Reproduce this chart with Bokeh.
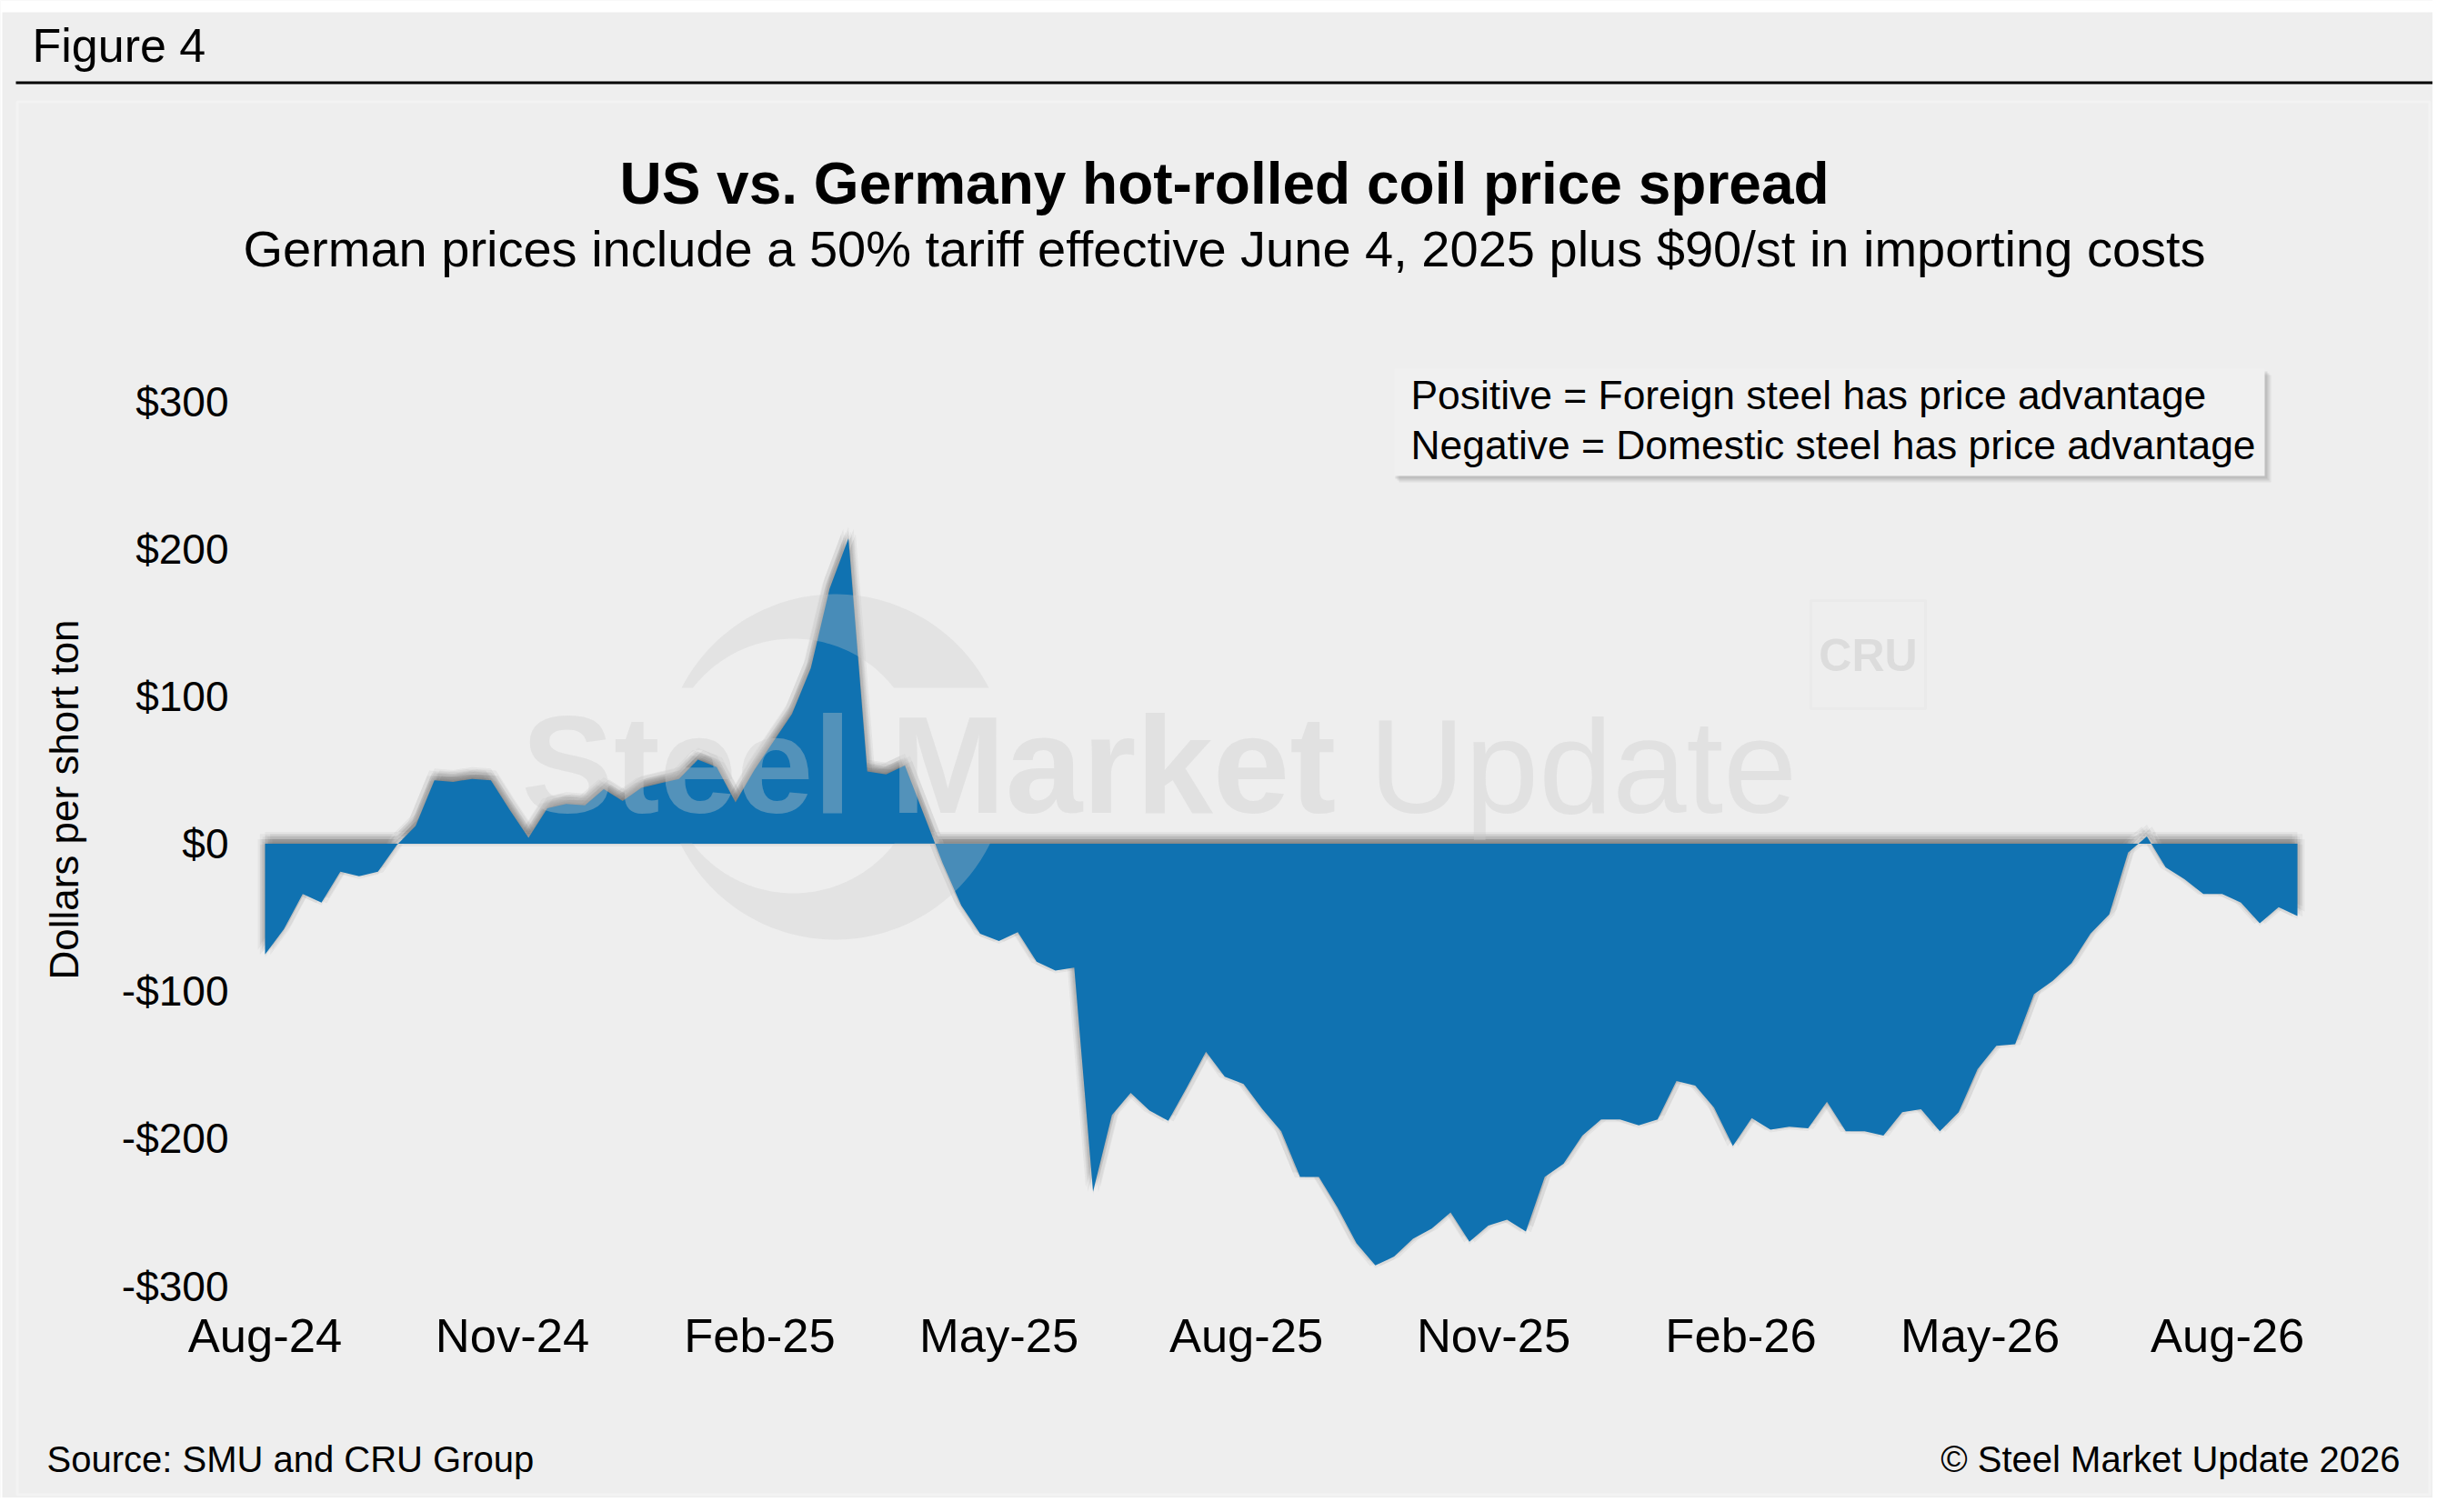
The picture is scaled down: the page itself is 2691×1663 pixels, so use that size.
import datetime as dt
import math
import numpy as np
from bokeh.plotting import figure
from bokeh.models import Range1d, FixedTicker, DatetimeTickFormatter, Label, BoxAnnotation, PolyAnnotation
from bokeh.embed import file_html
from bokeh.resources import INLINE

# ---------------- data ----------------
start_date = dt.datetime(2024, 8, 1)
spread = [
    -75, -58, -34, -40, -19, -22, -19, -1, 12, 43,
    42, 44, 43, 23, 4, 24, 27, 26, 37, 29,
    38, 41, 44, 57, 52, 28, 50, 69, 88, 119,
    173, 207, 49, 47, 53, 20, -13, -42, -61, -66,
    -60, -80, -86, -84, -236, -184, -169, -181, -188, -165,
    -141, -158, -163, -180, -195, -226, -226, -247, -271, -286,
    -280, -268, -261, -250, -270, -259, -255, -263, -226, -217,
    -198, -187, -187, -191, -187, -161, -164, -179, -205, -186,
    -194, -192, -193, -175, -195, -195, -198, -182, -180, -195,
    -182, -153, -137, -136, -102, -93, -81, -61, -48, -6,
    5, -16, -24, -34, -34, -40, -54, -43, -49,
]
dates = [start_date + dt.timedelta(weeks=i) for i in range(len(spread))]

x_tick_dates = [dt.datetime(2024, 8, 1), dt.datetime(2024, 11, 1), dt.datetime(2025, 2, 1),
                dt.datetime(2025, 5, 1), dt.datetime(2025, 8, 1), dt.datetime(2025, 11, 1),
                dt.datetime(2026, 2, 1), dt.datetime(2026, 5, 1), dt.datetime(2026, 8, 1)]
x_tick_labels = ["Aug-24", "Nov-24", "Feb-25", "May-25", "Aug-25", "Nov-25", "Feb-26", "May-26", "Aug-26"]
y_ticks = [-300, -200, -100, 0, 100, 200, 300]
y_tick_labels = ["-$300", "-$200", "-$100", "$0", "$100", "$200", "$300"]

title_text = "US vs. Germany hot-rolled coil price spread"
subtitle_text = "German prices include a 50% tariff effective June 4, 2025 plus $90/st in importing costs"
legend_lines = ["Positive = Foreign steel has price advantage",
                "Negative = Domestic steel has price advantage"]
y_axis_title = "Dollars per short ton"

# ---------------- layout ----------------
W, H = 2675, 1647
L, R, T, B = 291, 2526, 441, 1414      # data area inside the canvas
BG = "#EEEEEE"
BLUE = "#1072B1"
FONT = "Liberation Sans"


def ms(d):
    return (d - dt.datetime(1970, 1, 1)).total_seconds() * 1000.0


x0, x1 = ms(dates[0]), ms(dates[-1])
ms_per_px = (x1 - x0) / (R - L)
usd_per_px = 600.0 / (B - T)
x_range = Range1d(x0 - L * ms_per_px, x1 + (W - R) * ms_per_px)
y_range = Range1d(-300 - (H - B) * usd_per_px, 300 + T * usd_per_px)

p = figure(width=W, height=H, x_axis_type="datetime", x_range=x_range, y_range=y_range,
           output_backend="svg", toolbar_location=None, title=None,
           min_border=0, min_border_left=0, min_border_right=0, min_border_top=0, min_border_bottom=0,
           background_fill_color=BG, border_fill_color=BG, outline_line_color=None)
p.xgrid.visible = False
p.ygrid.visible = False

# axes (kept at the data-area edges)
for ax in (p.xaxis[0], p.yaxis[0]):
    ax.axis_line_color = None
    ax.major_tick_line_color = None
    ax.minor_tick_line_color = None
    ax.major_tick_out = 0
    ax.major_tick_in = 0
    ax.minor_tick_out = 0
    ax.minor_tick_in = 0
    ax.major_label_text_font = FONT
    ax.major_label_text_color = "#000000"

x_ticks_ms = [ms(d) for d in x_tick_dates]
p.xaxis.fixed_location = -300
p.xaxis.bounds = (x0, x1)
p.xaxis.ticker = FixedTicker(ticks=x_ticks_ms)
p.xaxis.formatter = DatetimeTickFormatter(months="%b-%y", days="%b-%y", years="%b-%y")
p.xaxis.major_label_overrides = {t: lab for t, lab in zip(x_ticks_ms, x_tick_labels)}
p.xaxis.major_label_text_font_size = "52.5px"
p.xaxis.major_label_standoff = 24

p.yaxis.fixed_location = x0
p.yaxis.bounds = (-300, 360)
p.yaxis.ticker = FixedTicker(ticks=y_ticks)
p.yaxis.major_label_overrides = {t: lab for t, lab in zip(y_ticks, y_tick_labels)}
p.yaxis.major_label_text_font_size = "46px"
p.yaxis.major_label_standoff = 40
p.yaxis.axis_label = y_axis_title
p.yaxis.axis_label_text_font = FONT
p.yaxis.axis_label_text_font_size = "44px"
p.yaxis.axis_label_text_font_style = "normal"
p.yaxis.axis_label_text_color = "#000000"
p.yaxis.axis_label_standoff = 36

x_ms = np.array([ms(d) for d in dates])
vals = np.array(spread, dtype=float)

# soft shadow behind the area
offsets = [(0.0, 5.0)]
for r in (4.0, 8.0):
    for k in range(8):
        th = k * math.pi / 4
        offsets.append((r * math.cos(th), 5.0 + r * math.sin(th)))
for dx, dy in offsets:
    p.varea(x=x_ms + dx * ms_per_px, y1=np.zeros_like(vals) + dy * usd_per_px,
            y2=vals + dy * usd_per_px, fill_color="#444444", fill_alpha=0.06)

# main area
p.varea(x=x_ms, y1=np.zeros_like(vals), y2=vals, fill_color=BLUE, fill_alpha=1.0)

# ---------------- decorations (canvas units) ----------------
def box(left, right, top, bottom, **kw):
    b = BoxAnnotation(left=left, right=right, top=top, bottom=bottom,
                      left_units="canvas", right_units="canvas",
                      top_units="canvas", bottom_units="canvas", **kw)
    p.add_layout(b)
    return b


BASE_K = 0.39  # baseline correction for alphabetic labels


def label(x, y, text, size, baseline=True, **kw):
    yy = y - BASE_K * size if baseline else y
    lb = Label(x=x, y=yy, x_units="canvas", y_units="canvas", text=text,
               text_font=kw.pop("text_font", FONT), text_font_size=f"{size}px",
               text_baseline=kw.pop("text_baseline", "alphabetic"), **kw)
    p.add_layout(lb)
    return lb


# white page strips, header rule, white frame
box(0, W, 0, 13, fill_color="#FFFFFF", fill_alpha=1, line_color=None)
box(0, 2, 0, H, fill_color="#FFFFFF", fill_alpha=1, line_color=None)
box(17, W, 89, 92, fill_color="#000000", fill_alpha=1, line_color=None)
box(18.5, 2671.5, 111.5, 1643.5, fill_color=None, fill_alpha=0, line_color="#FFFFFF", line_width=3)

# watermark crescent (two pieces, cut by the text band)
ocx, ocy, orr = 918.0, 843.0, 190.0
icx, icy, irr = 872.0, 842.0, 140.0
band_top, band_bot = 756.0, 927.0
a0 = math.asin((ocy - band_top) / orr)
a1 = math.asin((icy - band_top) / irr)
ta = np.linspace(math.pi - a0, a0, 80)
tb = np.linspace(a1, math.pi - a1, 80)
up_x = list(ocx + orr * np.cos(ta)) + list(icx + irr * np.cos(tb))
up_y = list(ocy - orr * np.sin(ta)) + list(icy - irr * np.sin(tb))
b0 = math.asin((band_bot - ocy) / orr)
b1 = math.asin((band_bot - icy) / irr)
tc = np.linspace(-b0, -(math.pi - b0), 80)
td = np.linspace(-(math.pi - b1), -b1, 80)
lo_x = list(ocx + orr * np.cos(tc)) + list(icx + irr * np.cos(td))
lo_y = list(ocy - orr * np.sin(tc)) + list(icy - irr * np.sin(td))
for xs, ys in ((up_x, up_y), (lo_x, lo_y)):
    p.add_layout(PolyAnnotation(xs=[float(v) for v in xs], ys=[float(v) for v in ys],
                                xs_units="canvas", ys_units="canvas",
                                fill_color="#CBCBCB", fill_alpha=0.30, line_color=None))

# watermark text
label(573, 900, "Steel Market", 152, text_font_style="bold", text_color="#CBCBCB", text_alpha=0.36)
label(1505, 900, "Update", 146, text_color="#CBCBCB", text_alpha=0.36)

# CRU logo
box(1991, 2117, 660, 779, fill_color=None, fill_alpha=0, line_color="#E0E0E0", line_width=3)
label(2054, 720, "CRU", 50, baseline=False, text_font_style="bold",
      text_color="#DCDCDC", text_align="center", text_baseline="middle")

# legend note box with shadow
for k, a in ((7, 0.10), (5, 0.12), (3, 0.14)):
    box(1533 + k - 2, 2490 + k, 405 + k, 523 + k, fill_color="#666666", fill_alpha=a, line_color=None)
box(1533, 2490, 405, 523, fill_color="#F0F0F0", fill_alpha=1, line_color=None)
label(1551, 451, legend_lines[0], 44.4, text_color="#000000")
label(1551, 506, legend_lines[1], 44.4, text_color="#000000")

# header texts
label(35, 70, "Figure 4", 52, text_color="#000000")
label(1346, 226, title_text, 64, text_font_style="bold", text_color="#000000", text_align="center")
label(1346, 295, subtitle_text, 56, text_color="#000000", text_align="center")

# footer
label(51, 1620, "Source: SMU and CRU Group", 40, text_color="#000000")
label(2639, 1620, "\u00a9 Steel Market Update 2026", 40, text_color="#000000", text_align="right")

open("out.html", "w").write(file_html(p, INLINE))
